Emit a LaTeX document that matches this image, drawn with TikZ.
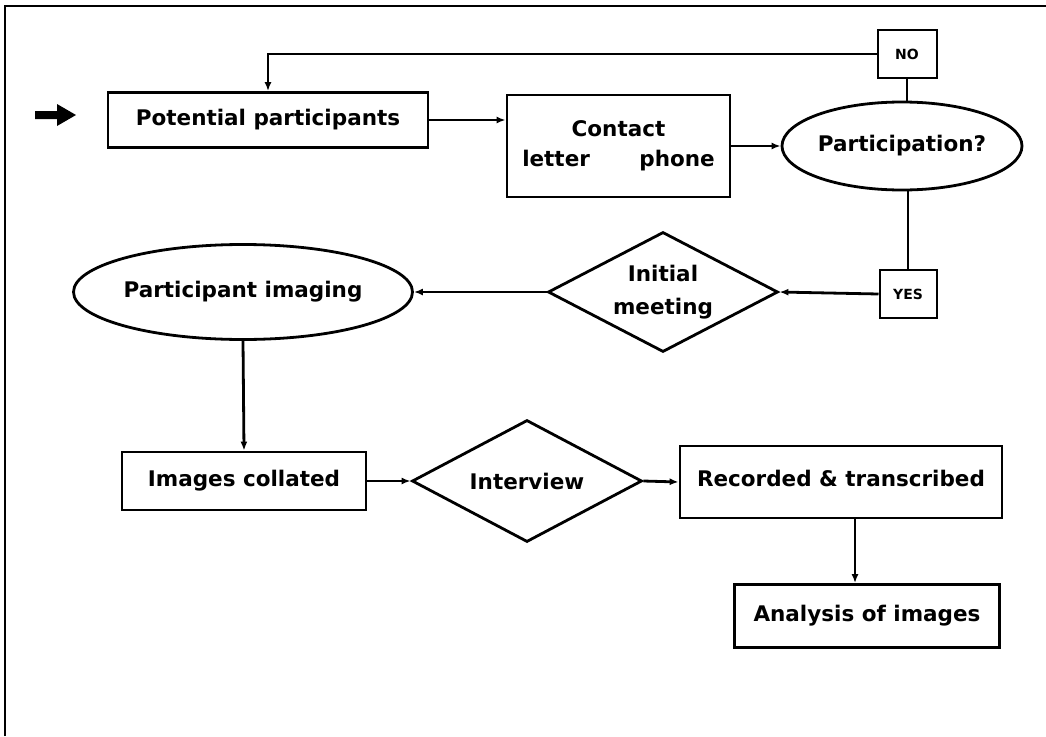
\documentclass[tikz,border=0pt]{standalone}
\usepackage{fontspec}
\setmainfont{DejaVu Sans}
\usetikzlibrary{shapes.geometric,arrows.meta}
\begin{document}
\begin{tikzpicture}[x=1pt,y=-1pt,
  line width=2.8pt,
  flow/.style={-{Latex[length=9pt,width=7pt]}},
  txt/.style={font=\fontsize{21.5}{30}\selectfont\bfseries},
  box/.style={draw,rectangle,inner sep=0pt,txt,align=center},
  oval/.style={draw,ellipse,inner sep=0pt,txt},
  decision/.style={draw,diamond,inner sep=0pt,txt,align=center},
  tag/.style={draw,rectangle,inner sep=0pt,line width=2pt,
              font=\fontsize{14}{16}\selectfont\bfseries}]
\useasboundingbox (0,0) rectangle (1046,736);
% frame
\draw[line width=1.8pt] (5,736) -- (5,6) -- (1046,6);

% nodes
\node[box,minimum width=320pt,minimum height=55pt] (pp) at (268,120) {Potential participants};
\node[box,minimum width=223pt,minimum height=102pt] (contact) at (618.5,146)
  {Contact\\letter\hspace{2.3em}phone};
\node[oval,minimum width=240pt,minimum height=88pt] (part) at (902,146) {Participation?};
\node[tag,minimum width=59pt,minimum height=48pt] (no) at (907,54) {NO};
\node[decision,aspect=1.9,minimum width=230pt,minimum height=120pt] (init) at (663,292)
  {Initial\\[3pt]meeting};
\node[tag,minimum width=57pt,minimum height=48pt] (yes) at (908,294) {YES};
\node[oval,minimum width=339pt,minimum height=95pt] (pimg) at (243,292) {Participant imaging};
\node[box,minimum width=244pt,minimum height=58pt] (ic) at (244,481) {Images collated};
\node[decision,aspect=1.9,minimum width=230pt,minimum height=122pt] (iv) at (527,481) {Interview};
\node[box,minimum width=322pt,minimum height=72pt] (rt) at (841,482)
  {\raisebox{7pt}{Recorded \& transcribed}};
\node[box,minimum width=265pt,minimum height=63pt] (ai) at (867,616) {Analysis of images};

% entry arrow
\coordinate (in) at (35,115);
\fill (in) ++(0,-4) -- ++(22,0) -- ++(0,-7) -- ++(19,11) -- ++(-19,11) -- ++(0,-7) -- ++(-22,0) -- cycle;

% connectors
\draw[flow] (no.west) -| (pp.north);
\draw (no.south) -- (no.south |- part.north);
\draw[flow] (pp.east) -- (pp.east -| contact.west);
\draw[flow] (contact.east) -- (part.west);
\draw (part.south -| yes.north) -- (yes.north);
\draw[flow] (yes.west) -- (init.east);
\draw[flow] (init.west) -- (pimg.east);
\draw[flow] (pimg.south) -- (ic.north);
\draw[flow] (ic.east) -- (iv.west);
\draw[flow] (iv.east) -- (rt.west);
\draw[flow] (rt.south -| 855,0) -- (ai.north -| 855,0);
\end{tikzpicture}
\end{document}
